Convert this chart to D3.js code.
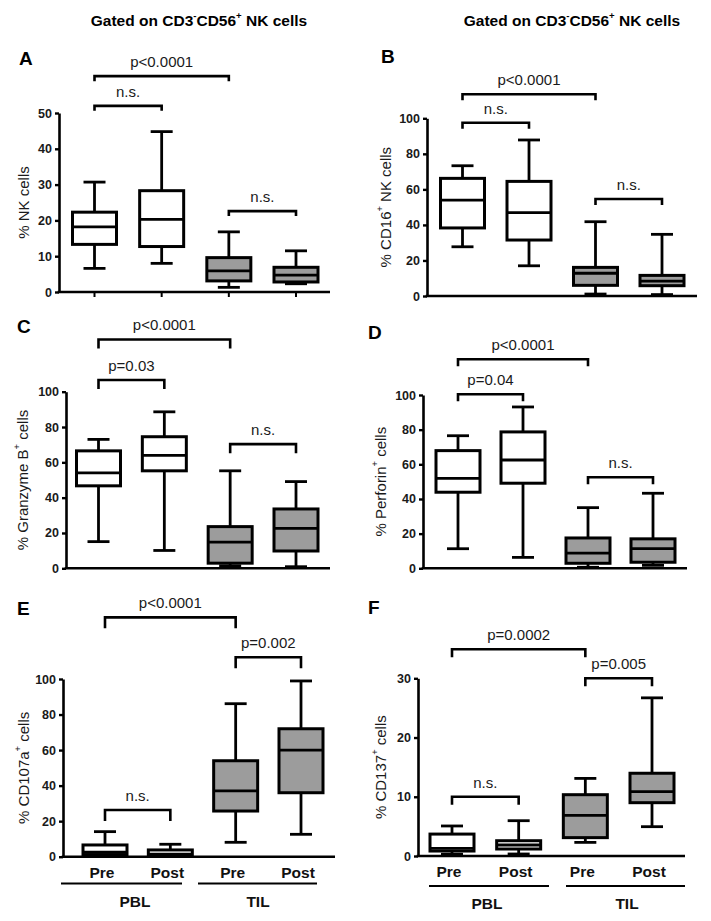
<!DOCTYPE html>
<html>
<head>
<meta charset="utf-8">
<script src="https://cdn.jsdelivr.net/npm/d3@7"></script>
<style>
  body { margin: 0; background: #fff; }
  svg { display: block; }
</style>
</head>
<body>
<script>
// data: [min, Q1, median, Q3, max] for PBL Pre, PBL Post, TIL Pre, TIL Post
const groups = ["PBL Pre", "PBL Post", "TIL Pre", "TIL Post"];
const catLabels = ["Pre", "Post", "Pre", "Post"];
const groupLabels = ["PBL", "TIL"];

const statsA = [[6.6, 13.3, 18.2, 22.3, 30.7], [8.0, 12.7, 20.3, 28.3, 44.8], [1.3, 3.1, 5.9, 9.6, 16.8], [2.3, 2.8, 4.7, 6.9, 11.5]];
const statsB = [[27.7, 38.3, 54, 66.2, 73.3], [17, 31.5, 46.9, 64.5, 87.8], [1.1, 6.0, 12.8, 16.1, 41.8], [0.8, 5.8, 8.4, 11.6, 34.7]];
const statsC = [[15.1, 46.7, 54, 66.5, 73], [10.1, 55.2, 63.9, 74.5, 88.6], [1.4, 2.9, 14.8, 23.6, 55.2], [0.9, 9.8, 22.6, 33.6, 49.1]];
const statsD = [[11.3, 43.9, 51.9, 67.9, 76.5], [6.3, 49.1, 62.5, 78.7, 93.1], [0.6, 2.9, 8.7, 17.5, 35], [1.7, 3.5, 11.3, 17, 43.3]];
const statsE = [[0.3, 1.2, 2.5, 6.6, 14.1], [0.2, 0.6, 1.5, 3.8, 7], [8.1, 25.7, 37, 54, 86.1], [12.6, 36, 60, 72, 98.9]];
const statsF = [[0.3, 0.84, 1.3, 3.7, 5.07], [0.34, 1.18, 1.86, 2.58, 5.96], [2.3, 3.1, 6.87, 10.35, 13.1], [4.95, 9.0, 10.86, 13.97, 26.7]];

const ticks50 = [0, 10, 20, 30, 40, 50];
const ticks100 = [0, 20, 40, 60, 80, 100];
const ticks30 = [0, 10, 20, 30];

// brackets: [from, to, level (data units), label]
const bracketsA = [[0, 2, 60.3, "p<0.0001"], [0, 1, 52, "n.s."], [2, 3, 22.6, "n.s."]];
const bracketsB = [[0, 2, 113.5, "p<0.0001"], [0, 1, 97.5, "n.s."], [2, 3, 54.6, "n.s."]];
const bracketsC = [[0, 2, 129.6, "p<0.0001"], [0, 1, 106.6, "p=0.03"], [2, 3, 70.3, "n.s."]];
const bracketsD = [[0, 2, 120.6, "p<0.0001"], [0, 1, 100.4, "p=0.04"], [2, 3, 52.5, "n.s."]];
const bracketsE = [[0, 2, 134.7, "p<0.0001"], [2, 3, 112.2, "p=0.002"], [0, 1, 26.3, "n.s."]];
const bracketsF = [[0, 2, 34.9, "p=0.0002"], [2, 3, 30.0, "p=0.005"], [0, 1, 10.0, "n.s."]];

const yLabels = ["% NK cells", "% CD16^+^ NK cells", "% Granzyme B^+^ cells", "% Perforin^+^ cells", "% CD107a^+^ cells", "% CD137^+^ cells"];
const header = "Gated on CD3^-^CD56^+^ NK cells";

const FONT = "Arial, 'Liberation Sans', sans-serif";
const GRAY = "#9c9c9c";

// layout of each panel (pixels)
const panels = [
    {key: "A", stats: statsA, ticks: ticks50, brackets: bracketsA, ylab: yLabels[0], left: 59, right: 330, y0: 292, yTop: 113, c0: 94.5, c3: 296, lx: 19, ly: 65, ylx: 25, leg: 5, xTicks: true},
    {key: "B", stats: statsB, ticks: ticks100, brackets: bracketsB, ylab: yLabels[1], left: 427, right: 697, y0: 296, yTop: 118.3, c0: 462.5, c3: 662, lx: 381, ly: 63, ylx: 387, leg: 6},
    {key: "C", stats: statsC, ticks: ticks100, brackets: bracketsC, ylab: yLabels[2], left: 66, right: 330, y0: 568.3, yTop: 391.7, c0: 98.5, c3: 296, lx: 17, ly: 333, ylx: 24, leg: 9},
    {key: "D", stats: statsD, ticks: ticks100, brackets: bracketsD, ylab: yLabels[3], left: 423, right: 687, y0: 568.3, yTop: 395, c0: 458, c3: 653, lx: 368, ly: 339, ylx: 382, leg: 7},
    {key: "E", stats: statsE, ticks: ticks100, brackets: bracketsE, ylab: yLabels[4], left: 63, right: 335, y0: 856.7, yTop: 679, c0: 105, c3: 301, lx: 17, ly: 615, ylx: 25, leg: 11,
        cats: true, gl: [[61, 182], [198, 317]], glx: [135, 258], gy: 883.5},
    {key: "F", stats: statsF, ticks: ticks30, brackets: bracketsF, ylab: yLabels[5], left: 418, right: 685, y0: 856, yTop: 678.3, c0: 452, c3: 652, lx: 368, ly: 614, ylx: 382, leg: 8,
        cats: true, gl: [[429, 549], [566, 685]], glx: [487, 627], gy: 886}
];

const svg = d3.select("body").append("svg")
    .attr("width", 711)
    .attr("height", 921)
    .style("font-family", FONT);

svg.append("rect").attr("width", 711).attr("height", 921).attr("fill", "#fff");

// text with ^sup^ parts
function richText(sel, str, size) {
    const parts = str.split("^");
    parts.forEach(function (t, i) {
        if (!t) return;
        const sup = i % 2 === 1;
        const ts = sel.append("tspan").text(t);
        if (sup) {
            ts.attr("font-size", size * 0.62).attr("dy", -size * 0.42);
        } else if (i > 0) {
            ts.attr("dy", size * 0.42);
        }
    });
}

// column headers
[199, 572].forEach(function (cx) {
    const t = svg.append("text")
        .attr("x", cx).attr("y", 26)
        .attr("text-anchor", "middle")
        .attr("font-size", 15.5)
        .attr("font-weight", "bold");
    richText(t, header, 15.5);
});

panels.forEach(function (p) {
    const g = svg.append("g");
    const y = d3.scaleLinear().domain([0, d3.max(p.ticks)]).range([p.y0, p.yTop]);
    const x = d3.scalePoint().domain(d3.range(groups.length)).range([p.c0, p.c3]);
    const bw = 44;

    // panel letter
    g.append("text")
        .attr("x", p.lx).attr("y", p.ly)
        .attr("font-size", 19)
        .attr("font-weight", "bold")
        .text(p.key);

    // y axis
    const ya = g.append("g")
        .attr("transform", "translate(" + p.left + ",0)")
        .call(d3.axisLeft(y).tickValues(p.ticks).tickSize(4).tickSizeOuter(0).tickPadding(3));
    ya.select(".domain").attr("stroke", "#000").attr("stroke-width", 2.6);
    ya.selectAll(".tick line").attr("stroke", "#000").attr("stroke-width", 2.4);
    ya.selectAll(".tick text")
        .attr("fill", "#1a1a1a")
        .attr("font-family", FONT)
        .attr("font-size", 12.5)
        .attr("font-weight", "bold");

    // x axis line
    g.append("line")
        .attr("x1", p.left - 1.3).attr("x2", p.right)
        .attr("y1", p.y0).attr("y2", p.y0)
        .attr("stroke", "#000").attr("stroke-width", 2.6);
    if (p.xTicks) {
        g.selectAll(".xt").data(groups).enter().append("line")
            .attr("x1", function (d, i) { return x(i); })
            .attr("x2", function (d, i) { return x(i); })
            .attr("y1", p.y0).attr("y2", p.y0 + 5)
            .attr("stroke", "#000").attr("stroke-width", 2);
    }

    // y label
    const yl = g.append("text")
        .attr("transform", "translate(" + p.ylx + "," + ((p.y0 + p.yTop) / 2) + ") rotate(-90)")
        .attr("text-anchor", "middle")
        .attr("dominant-baseline", "middle")
        .attr("font-size", 15)
        .attr("fill", "#1a1a1a");
    richText(yl, p.ylab, 15);

    // boxes
    const boxes = g.selectAll(".box").data(p.stats).enter().append("g");
    boxes.append("line")
        .attr("x1", function (d, i) { return x(i); })
        .attr("x2", function (d, i) { return x(i); })
        .attr("y1", function (d) { return y(d[0]); })
        .attr("y2", function (d) { return y(d[4]); })
        .attr("stroke", "#000").attr("stroke-width", 2.8);
    boxes.append("rect")
        .attr("x", function (d, i) { return x(i) - bw / 2; })
        .attr("y", function (d) { return y(d[3]); })
        .attr("width", bw)
        .attr("height", function (d) { return y(d[1]) - y(d[3]); })
        .attr("fill", function (d, i) { return i < 2 ? "#fff" : GRAY; })
        .attr("stroke", "#000").attr("stroke-width", 3);
    boxes.append("line")
        .attr("x1", function (d, i) { return x(i) - bw / 2; })
        .attr("x2", function (d, i) { return x(i) + bw / 2; })
        .attr("y1", function (d) { return y(d[2]); })
        .attr("y2", function (d) { return y(d[2]); })
        .attr("stroke", "#000").attr("stroke-width", 2.8);
    [0, 4].forEach(function (k) {
        boxes.append("line")
            .attr("x1", function (d, i) { return x(i) - bw / 4; })
            .attr("x2", function (d, i) { return x(i) + bw / 4; })
            .attr("y1", function (d) { return y(d[k]); })
            .attr("y2", function (d) { return y(d[k]); })
            .attr("stroke", "#000").attr("stroke-width", 2.8);
    });

    // significance brackets
    const br = g.selectAll(".br").data(p.brackets).enter().append("g");
    br.append("path")
        .attr("d", function (d) {
            const x1 = x(d[0]), x2 = x(d[1]), yb = y(d[2]);
            return "M" + x1 + "," + (yb + p.leg) + "V" + yb + "H" + x2 + "V" + (yb + p.leg);
        })
        .attr("fill", "none")
        .attr("stroke", "#000").attr("stroke-width", 2.6);
    br.append("text")
        .attr("x", function (d) { return (x(d[0]) + x(d[1])) / 2; })
        .attr("y", function (d) { return y(d[2]) - 9; })
        .attr("text-anchor", "middle")
        .attr("font-size", 15)
        .attr("fill", "#1a1a1a")
        .text(function (d) { return d[3]; });

    // category / group labels
    if (p.cats) {
        g.selectAll(".cat").data(catLabels).enter().append("text")
            .attr("x", function (d, i) { return x(i) - 3; })
            .attr("y", p.y0 + 21)
            .attr("text-anchor", "middle")
            .attr("font-size", 15.5)
            .attr("font-weight", "bold")
            .attr("fill", "#111")
            .text(function (d) { return d; });
        g.selectAll(".gl").data(groupLabels).enter().append("line")
            .attr("x1", function (d, i) { return p.gl[i][0]; })
            .attr("x2", function (d, i) { return p.gl[i][1]; })
            .attr("y1", p.gy).attr("y2", p.gy)
            .attr("stroke", "#000").attr("stroke-width", 1.8);
        g.selectAll(".glt").data(groupLabels).enter().append("text")
            .attr("x", function (d, i) { return p.glx[i]; })
            .attr("y", p.gy + 23)
            .attr("text-anchor", "middle")
            .attr("font-size", 15.5)
            .attr("font-weight", "bold")
            .attr("fill", "#111")
            .text(function (d) { return d; });
    }
});
</script>
</body>
</html>
